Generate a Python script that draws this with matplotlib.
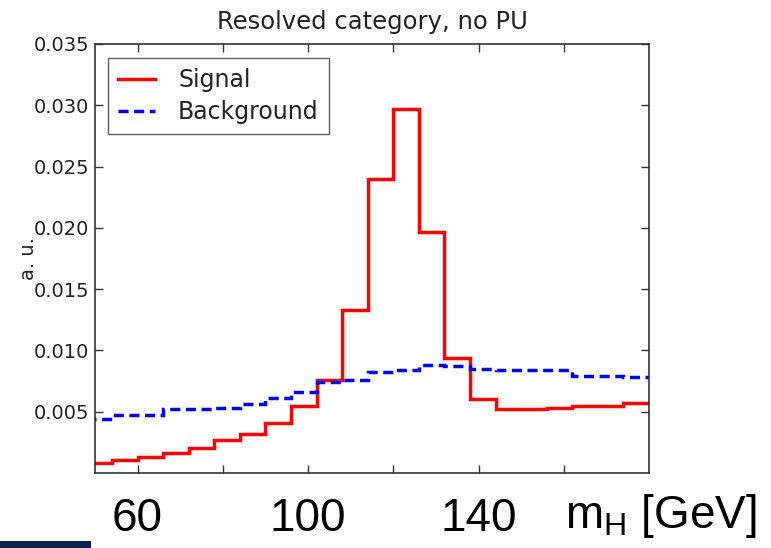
import numpy as np
import matplotlib
matplotlib.use("Agg")
import matplotlib.pyplot as plt
from matplotlib.patches import Rectangle

# bin edges in GeV (6 GeV bins)
edges = np.arange(48, 181, 6)

signal = [0.00079, 0.00106, 0.00133, 0.0016, 0.00207, 0.0027, 0.0032, 0.0041,
          0.0055, 0.0076, 0.0133, 0.0240, 0.0297, 0.0197, 0.0094, 0.0060,
          0.0052, 0.0052, 0.0053, 0.0055, 0.0055, 0.0057]
background = [0.0044, 0.0047, 0.0047, 0.0052, 0.0052, 0.0053, 0.0056, 0.0061,
              0.0066, 0.0074, 0.0076, 0.0082, 0.0084, 0.0088, 0.0087, 0.0085,
              0.0084, 0.0084, 0.0084, 0.0079, 0.0079, 0.0078]

x_ticks = [60, 80, 100, 120, 140, 160]
x_ticklabels = ["60", "", "100", "", "140", ""]
y_ticks = [0.005, 0.010, 0.015, 0.020, 0.025, 0.030, 0.035]

fig = plt.figure(figsize=(7.71, 5.48), dpi=100)
ax = fig.add_axes([95/771, 1 - 473/548, (649 - 95)/771, (473 - 44)/548])

ax.stairs(signal, edges, baseline=None, color="#ff0000", lw=2.5, label="Signal")
ax.stairs(background, edges, baseline=None, color="#0000ff", lw=2.5,
          linestyle=(0, (2.9, 1.6)), label="Background")

ax.set_xlim(50, 180)
ax.set_ylim(0, 0.035)
ax.set_yticks(y_ticks)
ax.set_yticklabels([f"{v:.3f}" for v in y_ticks], fontsize=14, color="#222222")
ax.set_xticks(x_ticks)
ax.set_xticklabels(x_ticklabels, fontsize=33, family="Liberation Sans")
ax.tick_params(direction="in", length=6, width=1, top=True, right=True, color="#333333")
ax.tick_params(axis="x", pad=17)
ax.tick_params(axis="y", pad=4)
for s in ax.spines.values():
    s.set_color("#333333")
    s.set_linewidth(1.2)

ax.set_title("Resolved category, no PU", fontsize=17.5, color="#222222", pad=11)
ax.set_ylabel("a. u.", fontsize=14, color="#222222", labelpad=-3)

fig.text(565/771, 1 - 516/548, "m$_\\mathregular{H}$ [GeV]", fontsize=33,
         family="Liberation Sans", va="center", ha="left")

leg = ax.legend(loc="upper left", fontsize=17, fancybox=False, frameon=True,
                handlelength=1.55, handletextpad=1.0, borderpad=0.42,
                labelspacing=0.34, borderaxespad=0,
                bbox_to_anchor=(13/554, 1 - 14/429))
leg.get_frame().set_edgecolor("#333333")
leg.get_frame().set_linewidth(1.0)
for t in leg.get_texts():
    t.set_color("#222222")

fig.patches.append(Rectangle((0, 0), 91/771, 7/548, transform=fig.transFigure,
                             facecolor="#0b1f4d", edgecolor="none"))

fig.savefig("out.png", dpi=100)
